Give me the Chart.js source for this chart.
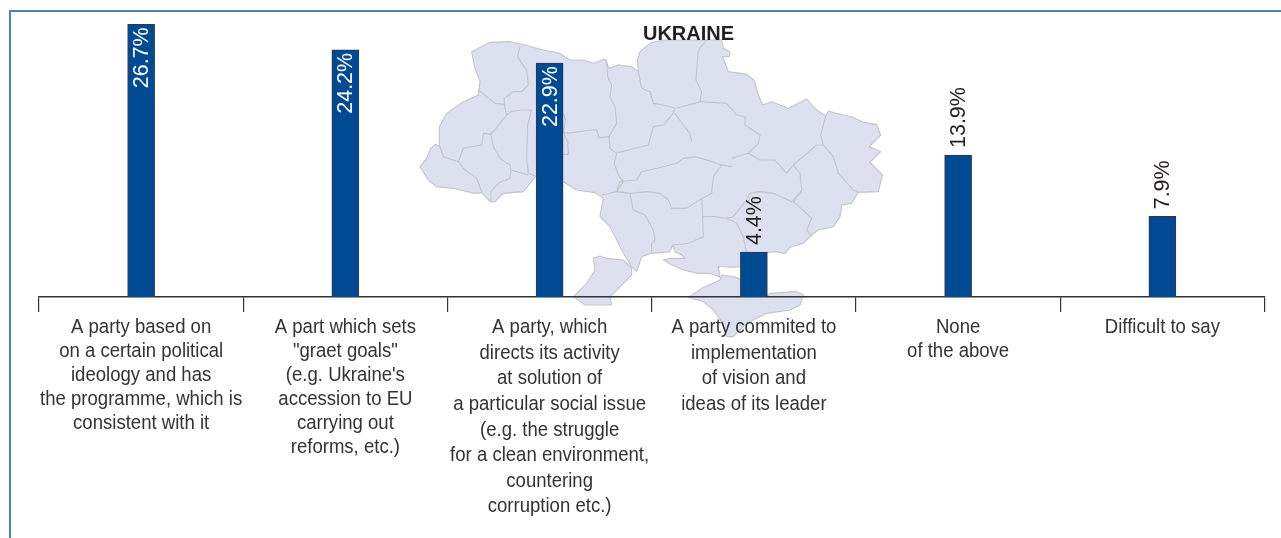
<!DOCTYPE html>
<html>
<head>
<meta charset="utf-8">
<title>Party preferences, Ukraine</title>
<style>
  html, body { margin: 0; padding: 0; background: #fff; }
  canvas { display: block; }
</style>
<script src="https://cdn.jsdelivr.net/npm/chart.js@4/dist/chart.umd.min.js"></script>
</head>
<body>
<canvas id="chart" width="1281" height="538"></canvas>
<script>
// Survey answers, one multi-line label per category
const categories = [
  ["A party based on", "on a certain political", "ideology and has", "the programme, which is", "consistent with it"],
  ["A part which sets", "\"graet goals\"", "(e.g. Ukraine's", "accession to EU", "carrying out", "reforms, etc.)"],
  ["A party, which", "directs its activity", "at solution of", "a particular social issue", "(e.g. the struggle", "for a clean environment,", "countering", "corruption etc.)"],
  ["A party commited to", "implementation", "of vision and", "ideas of its leader"],
  ["None", "of the above"],
  ["Difficult to say"]
];
const shares = [26.7, 24.2, 22.9, 4.4, 13.9, 7.9];
const lineSpacing = [24, 24, 25.6, 25.6, 24, 24];
const mapTitle = "UKRAINE";

// Map backdrop, in a local grid of 1/3 px units
const mainland = [[30,470],[50,445],[62,415],[75,403],[88,408],[88,350],[110,310],[160,275],[205,255],[210,215],[195,175],[185,125],[205,115],[240,97],[300,95],[345,105],[400,120],[445,128],[480,150],[520,150],[550,160],[585,147],[597,175],[625,165],[665,170],[685,185],[682,150],[690,125],[720,100],[760,90],[870,90],[935,90],[940,115],[960,125],[958,140],[938,140],[955,185],[1010,193],[1032,210],[1045,255],[1058,285],[1085,275],[1110,285],[1135,295],[1190,267],[1220,300],[1247,318],[1255,303],[1290,313],[1325,320],[1360,337],[1400,343],[1412,375],[1378,410],[1412,425],[1380,457],[1417,495],[1405,545],[1345,547],[1325,580],[1295,585],[1290,620],[1270,650],[1225,660],[1205,675],[1180,700],[1140,712],[1125,730],[1095,725],[1072,727],[1010,735],[990,770],[960,772],[925,770],[930,802],[900,790],[860,790],[820,780],[780,762],[760,750],[780,745],[825,745],[815,735],[795,725],[788,705],[780,725],[750,728],[725,730],[695,740],[680,785],[665,770],[640,730],[620,690],[600,650],[570,620],[575,590],[580,565],[555,548],[500,540],[460,515],[380,495],[340,545],[280,550],[255,575],[240,575],[215,548],[190,550],[130,535],[80,530],[55,510]];
const bessarabia = [[665,775],[640,750],[590,745],[570,738],[550,745],[555,780],[530,820],[490,860],[525,885],[605,885],[600,860],[665,795]];
const crimea = [[835,862],[875,835],[930,810],[935,795],[980,802],[1072,860],[1080,850],[1160,845],[1180,855],[1170,885],[1140,900],[1070,910],[1010,940],[970,980],[950,980],[935,935],[910,900],[880,875]];
const syvash = [[930,772],[985,775],[990,802],[960,795],[935,790]];

const regionBorders = [
  [[330,110],[323,140],[335,160],[350,180],[355,225],[335,245],[310,245],[283,265],[283,283],[290,315],[270,340],[243,373]],
  [[205,240],[230,260],[255,280],[283,283]],
  [[290,315],[303,305],[335,300],[365,300],[353,345],[350,445],[355,490],[380,500]],
  [[243,373],[250,410],[270,445],[300,465],[303,480],[355,495]],
  [[303,480],[300,505],[265,520],[243,545],[243,575]],
  [[243,373],[220,370],[215,405],[160,415],[145,455],[100,440],[88,405]],
  [[145,455],[165,480],[200,505],[215,545]],
  [[460,310],[467,330],[460,365],[473,370],[545,360],[560,360],[567,383],[597,380],[600,415],[620,430],[613,460],[625,495],[640,515],[620,545],[575,555]],
  [[460,365],[473,395],[475,433],[455,433]],
  [[590,150],[593,200],[605,225],[600,260],[615,290],[620,340],[597,380]],
  [[618,430],[665,418],[715,405],[730,350],[760,345],[790,310],[795,295]],
  [[795,295],[760,285],[730,280],[720,245],[695,235],[685,185]],
  [[890,90],[865,120],[858,210],[875,245],[870,275],[800,295]],
  [[870,275],[950,280],[980,315],[1005,320],[1005,345],[1050,375],[1045,400],[1015,430],[965,445]],
  [[795,310],[820,345],[840,370],[845,395]],
  [[1015,430],[1050,450],[1095,450],[1130,490],[1150,465],[1220,405],[1240,405]],
  [[1247,318],[1232,375],[1240,405],[1270,440],[1285,490],[1330,540],[1345,547]],
  [[1150,465],[1170,490],[1175,540],[1150,575],[1205,625],[1190,660],[1205,680]],
  [[1175,545],[1145,575],[1090,550],[1050,545],[1020,550],[1010,570],[970,620],[945,625],[915,620],[878,620]],
  [[950,625],[980,640],[1000,680],[1010,730]],
  [[878,620],[880,680],[835,700],[790,705]],
  [[660,550],[670,600],[705,615],[730,660],[735,690],[725,700],[725,730]],
  [[620,545],[660,550],[710,545],[750,550],[775,570],[785,595],[830,595],[875,565],[878,620]],
  [[620,545],[630,515],[680,510],[695,485],[760,470],[800,460],[820,445],[855,440],[890,450],[920,460],[935,465],[910,500],[905,550],[878,565]],
  [[935,465],[965,470]]
];

const MAP_ORIGIN = [410, 10];
const toPage = p => [MAP_ORIGIN[0] + p[0] / 3, MAP_ORIGIN[1] + p[1] / 3];

function tracePath(ctx, pts, closed) {
  ctx.beginPath();
  pts.map(toPage).forEach((p, i) => i ? ctx.lineTo(p[0], p[1]) : ctx.moveTo(p[0], p[1]));
  if (closed) ctx.closePath();
}

// Frame, map and heading sit underneath the axes and bars
const backdrop = {
  id: "backdrop",
  beforeDraw(chart) {
    const ctx = chart.ctx;
    ctx.save();
    ctx.fillStyle = "#fff";
    ctx.fillRect(0, 0, chart.width, chart.height);

    ctx.strokeStyle = "#4f81b8";
    ctx.lineWidth = 2;
    ctx.beginPath();
    ctx.moveTo(10, chart.height);
    ctx.lineTo(10, 11);
    ctx.lineTo(chart.width, 11);
    ctx.stroke();

    ctx.lineJoin = "round";
    ctx.lineWidth = 1.1;
    ctx.strokeStyle = "#c2c5cc";
    [mainland, bessarabia, crimea].forEach(shape => {
      ctx.fillStyle = "#dde0ee";
      tracePath(ctx, shape, true);
      ctx.fill();
      ctx.stroke();
    });
    ctx.fillStyle = "#fff";
    tracePath(ctx, syvash, true);
    ctx.fill();
    regionBorders.forEach(line => {
      tracePath(ctx, line, false);
      ctx.stroke();
    });

    ctx.fillStyle = "#231f20";
    ctx.font = "bold 20px 'Liberation Sans', Arial, sans-serif";
    ctx.textAlign = "center";
    ctx.textBaseline = "alphabetic";
    ctx.fillText(mapTitle, 688.5, 40);
    ctx.restore();
  }
};

// Category captions in a condensed cut, centred under each axis section
const categoryCaptions = {
  id: "categoryCaptions",
  afterDraw(chart) {
    const ctx = chart.ctx;
    const xAxis = chart.scales.x;
    const condense = 0.905;
    ctx.save();
    ctx.font = "20.5px 'Liberation Sans', Arial, sans-serif";
    ctx.fillStyle = "#333";
    ctx.textAlign = "center";
    ctx.textBaseline = "middle";
    categories.forEach((lines, i) => {
      const cx = xAxis.getPixelForValue(i);
      lines.forEach((line, n) => {
        ctx.save();
        ctx.translate(cx, xAxis.top + 30.5 + n * lineSpacing[i]);
        ctx.scale(condense, 1);
        ctx.fillText(line, 0, 0);
        ctx.restore();
      });
    });
    ctx.restore();
  }
};

// Rotated percentages: inside the tall bars, above the short ones
const valueLabels = {
  id: "valueLabels",
  afterDatasetsDraw(chart) {
    const ctx = chart.ctx;
    chart.getDatasetMeta(0).data.forEach((bar, i) => {
      const value = shares[i];
      const inside = value > 20;
      ctx.save();
      ctx.translate(bar.x, inside ? bar.y + 3 : bar.y - 7);
      ctx.rotate(-Math.PI / 2);
      ctx.font = "21.5px 'Liberation Sans', Arial, sans-serif";
      ctx.fillStyle = inside ? "#fff" : "#231f20";
      ctx.textAlign = inside ? "right" : "left";
      ctx.textBaseline = "middle";
      ctx.fillText(value.toFixed(1) + "%", 0, 1);
      ctx.restore();
    });
  }
};

new Chart(document.getElementById("chart"), {
  type: "bar",
  data: {
    labels: categories.map(lines => lines.join(" ")),
    datasets: [{
      data: shares,
      backgroundColor: "#004a93",
      borderColor: "#2b3a4a",
      borderWidth: 1,
      barThickness: 27
    }]
  },
  options: {
    responsive: false,
    animation: false,
    layout: { padding: { left: 39, right: 16.5, top: 11, bottom: 0 } },
    plugins: { legend: { display: false }, tooltip: { enabled: false } },
    scales: {
      x: {
        afterFit(scale) { scale.height = 241; },
        border: { color: "#333", width: 1.5 },
        grid: { drawOnChartArea: false, drawTicks: true, tickLength: 15, color: "#333", lineWidth: 1.2 },
        ticks: { display: false }
      },
      y: { display: false, min: 0, max: 28 }
    }
  },
  plugins: [backdrop, valueLabels, categoryCaptions]
});
</script>
</body>
</html>
